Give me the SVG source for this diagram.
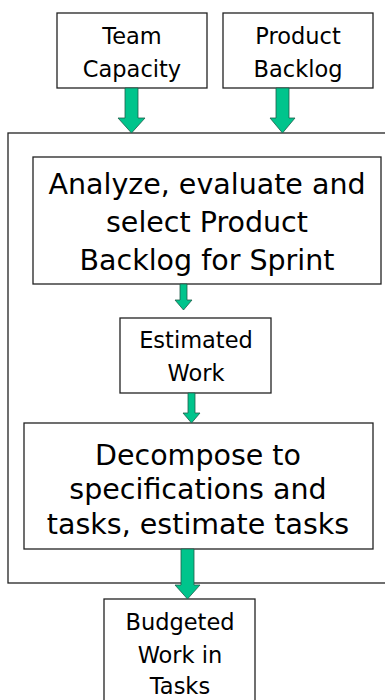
<svg xmlns="http://www.w3.org/2000/svg" width="385" height="700" viewBox="0 0 385 700">
<defs>
<style>
.box{fill:#fff;stroke:#222;stroke-width:1.3}
.t{font-family:"DejaVu Sans","Liberation Sans",sans-serif;fill:#000;text-anchor:middle}
.s{font-size:22.5px}
.l{font-size:28.5px}
.arr{fill:#00c48c;stroke:#1f5e4a;stroke-width:0.8}
</style>
</defs>
<rect width="385" height="700" fill="#fff"/>
<g id="container"><rect class="box" x="8" y="133" width="390" height="450"/></g>
<g id="team-capacity"><rect class="box" x="57" y="13" width="150" height="75"/>
<text class="t s" x="132" y="44">Team</text><text class="t s" x="132" y="77">Capacity</text></g>
<g id="product-backlog"><rect class="box" x="223" y="13" width="150" height="75"/>
<text class="t s" x="298" y="44">Product</text><text class="t s" x="298" y="77">Backlog</text></g>
<g id="analyze"><rect class="box" x="33" y="157" width="348" height="127"/>
<text class="t l" x="207" y="194">Analyze, evaluate and</text><text class="t l" x="207" y="232">select Product</text><text class="t l" x="207" y="270">Backlog for Sprint</text></g>
<g id="estimated-work"><rect class="box" x="120" y="318" width="151" height="75"/>
<text class="t s" x="196" y="348">Estimated</text><text class="t s" x="196" y="381">Work</text></g>
<g id="decompose"><rect class="box" x="24" y="423" width="349" height="126"/>
<text class="t l" x="198" y="465">Decompose to</text><text class="t l" x="198" y="499">specifications and</text><text class="t l" x="198" y="534">tasks, estimate tasks</text></g>
<g id="budgeted"><rect class="box" x="104" y="599" width="151" height="110"/>
<text class="t s" x="180" y="630">Budgeted</text><text class="t s" x="180" y="663">Work in</text><text class="t s" x="180" y="694">Tasks</text></g>
<g id="connectors">
<path class="arr" d="M125,88 H138 V118 H145 L131.5,133 L118,118 H125 Z"/>
<path class="arr" d="M276,88 H289 V118 H295 L282.5,133 L270,118 H276 Z"/>
<path class="arr" d="M180,284 H187 V300 H192 L183.5,310 L175,300 H180 Z"/>
<path class="arr" d="M188,393 H195 V413 H200 L191.5,423 L183,413 H188 Z"/>
<path class="arr" d="M181,549 H194 V585 H200 L187.5,599 L175,585 H181 Z"/>
</g>
</svg>
